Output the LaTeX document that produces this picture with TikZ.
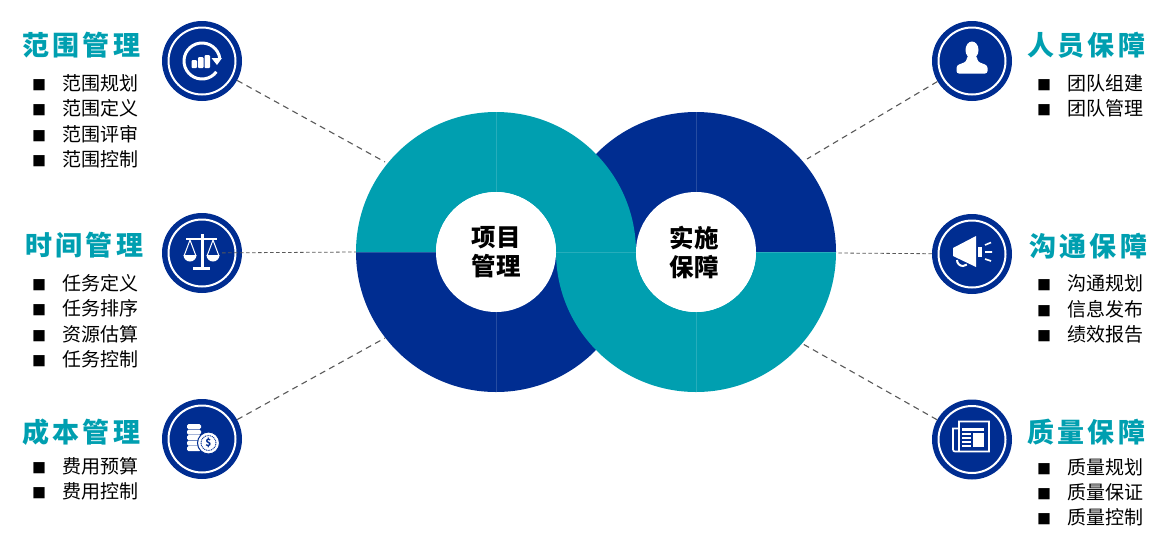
\documentclass[tikz,border=0pt]{standalone}
\usepackage{fontspec}
\usepackage[HTML]{xcolor}
\setmainfont{Noto Sans CJK SC}
\newfontfamily\titlefont[LetterSpace=12.5]{Noto Sans CJK SC}
\definecolor{tealfill}{HTML}{009FB0}
\definecolor{navyfill}{HTML}{002D91}
\usetikzlibrary{positioning}
\tikzset{
  badge/.style={circle, fill=navyfill, minimum size=80pt, inner sep=0pt},
  badgering/.style={circle, draw=white, line width=2pt, minimum size=67pt, inner sep=0pt},
  hub/.style={circle, fill=white, minimum size=120pt, inner sep=0pt, align=center, font=\fontsize{24.5}{29}\selectfont\bfseries},
  seam/.style={white, opacity=0.15, line width=0.7pt},
  link/.style={draw=black!65, line width=1.1pt, dash pattern=on 6pt off 4.5pt},
  linkfine/.style={draw=black!65, line width=0.8pt, dash pattern=on 3.5pt off 2.5pt},
  heading/.style={anchor=west, inner sep=0pt, text=tealfill, font=\fontsize{27}{31}\titlefont\bfseries},
  listitem/.style={anchor=west, inner sep=0pt, font=\fontsize{19}{22}\selectfont},
  glyph/.style={fill=white, draw=none}
}
\newcommand{\tick}[1]{\makebox[30pt][l]{\fontsize{14}{14}\selectfont ■}#1}
\begin{document}
\begin{tikzpicture}[x=1pt, y=-1pt]
\useasboundingbox (0,0) rectangle (1173,550);

% Define the rings
\fill[navyfill] (356,252) arc[start angle=180, end angle=0, radius=140] -- cycle;
\fill[navyfill] (556,252) arc[start angle=180, end angle=360, radius=140] -- cycle;
\fill[tealfill] (356,252) arc[start angle=180, end angle=360, radius=140]
  arc[start angle=180, end angle=0, radius=60] -- (836,252)
  arc[start angle=0, end angle=180, radius=140]
  arc[start angle=0, end angle=-180, radius=60] -- cycle;

% Define the hubs
\node[hub] (xiangmu) at (496,252) {项目\\管理};
\node[hub] (shishi) at (696,252) {\hspace{-4pt}实施\\\hspace{-4pt}保障};

% Draw the seams
\coordinate (ringtop) at (496,112);
\coordinate (ringbot) at (496,392);
\coordinate (ringtopr) at (696,112);
\coordinate (ringbotr) at (696,392);
\coordinate (ringw) at (356,252);
\coordinate (ringm) at (556,252);
\coordinate (ringe) at (836,252);
\draw[seam] (ringtop) -- (xiangmu);
\draw[seam] (ringbot) -- (xiangmu);
\draw[seam] (ringtopr) -- (shishi);
\draw[seam] (ringbotr) -- (shishi);
\draw[seam] (ringw) -- (xiangmu);
\draw[seam] (ringm) -- (shishi);
\draw[seam] (ringe) -- (shishi);

% Define the badges
\foreach \name/\x/\y in {fanwei/202/61, shijian/202/253, chengben/202/439,
                         renyuan/972/61, goutong/972/254, zhiliang/972/439.5} {
  \node[badge] (\name) at (\x,\y) {};
  \node[badgering] (\name-ring) at (\x,\y) {};
}

% Draw the links
\coordinate (endfanwei) at (385,162);
\coordinate (endchengben) at (385,338);
\coordinate (endrenyuan) at (807,159);
\coordinate (endzhiliang) at (803,344);
\coordinate (endgoutong) at (836,253);
\draw[link] (fanwei) -- (endfanwei);
\draw[linkfine, shorten <=-20pt] (shijian) -- (ringw);
\draw[link] (chengben) -- (endchengben);
\draw[link] (renyuan) -- (endrenyuan);
\draw[linkfine] (goutong) -- (endgoutong);
\draw[link] (zhiliang) -- (endzhiliang);

% Define the headings
\node[heading] (hfanwei) at (22,45) {范围管理};
\node[heading] (hshijian) at (25,245) {时间管理};
\node[heading] (hchengben) at (22,432) {成本管理};
\node[heading] (hrenyuan) at (1027,45) {人员保障};
\node[heading] (hgoutong) at (1029,246) {沟通保障};
\node[heading] (hzhiliang) at (1027,432) {质量保障};

% Define the lists
\foreach \y/\txt [count=\i] in {83/范围规划, 108/范围定义, 134/范围评审, 159/范围控制,
    283/任务定义, 308/任务排序, 334/资源估算, 359/任务控制, 466/费用预算, 491/费用控制}
  \node[listitem] (left\i) at (32,\y) {\tick{\txt}};
\foreach \y/\txt [count=\i] in {83/团队组建, 108/团队管理, 283/沟通规划, 309/信息发布, 334/绩效报告,
    467/质量规划, 492/质量保证, 517/质量控制}
  \node[listitem] (right\i) at (1037,\y) {\tick{\txt}};

% Draw the icons
\begin{scope}[shift={(fanwei)}]
  \draw[white, line width=3pt] (-8:18) arc[start angle=-8, end angle=-323, radius=18];
  \fill[glyph] (9.5,-3) -- (20,-3) -- (15,4) -- cycle;
  \fill[glyph, rounded corners=1pt] (-10.5,-1) rectangle (-5,7);
  \fill[glyph, rounded corners=1pt] (-4,-4) rectangle (1.5,7);
  \fill[glyph, rounded corners=1pt] (2.5,-6) rectangle (8,7);
\end{scope}
\begin{scope}[shift={(shijian)}]
  \fill[glyph] (-1.5,-19) rectangle (1.5,15);
  \fill[glyph] (-9,14) rectangle (8,16.5);
  \fill[glyph] (-16,-15.5) rectangle (15,-13);
  \draw[white, line width=1pt] (-12,-13) -- (-18,3) (-12,-13) -- (-6,3) (11,-13) -- (5,3) (11,-13) -- (17,3);
  \fill[glyph] (-18.5,2) arc[start angle=180, end angle=0, radius=6.5] -- cycle;
  \fill[glyph] (4.5,2) arc[start angle=180, end angle=0, radius=6.5] -- cycle;
\end{scope}
\begin{scope}[shift={(chengben)}]
  \foreach \yy in {-15,-9.5,-4,1.5,7}
    \fill[glyph, rounded corners=1.5pt] (-15,\yy) rectangle (-1,\yy+5);
  \node[circle, fill=white, draw=navyfill, line width=1pt, minimum size=22pt, inner sep=0pt] (coin) at (6.5,4) {};
  \node[circle, draw=navyfill, line width=0.9pt, dash pattern=on 1pt off 0.8pt, minimum size=15pt, inner sep=0pt,
        text=navyfill, font=\fontsize{10}{10}\selectfont\bfseries] (dollar) at (coin) {\$};
\end{scope}
\begin{scope}[shift={(renyuan)}]
  \fill[glyph] (0,-11) ellipse[x radius=6.5, y radius=8.5];
  \fill[glyph, rounded corners=2.5pt] (-15.5,12.5) -- (-15.5,4.5) -- (-5.5,0.5) -- (-5,-5) -- (5,-5) -- (5.5,0.5) -- (15.5,4.5) -- (15.5,12.5) -- cycle;
\end{scope}
\begin{scope}[shift={(goutong)}]
  \fill[glyph] (4,-18) -- (4,13) -- (-19,2) -- (-19,-6) -- cycle;
  \fill[glyph] (6,-7) rectangle (10,3);
  \draw[white, line width=1.6pt] (13,-9) -- (19,-11.5) (13,-2) -- (20,-2) (13,5) -- (19,7);
  \draw[white, line width=2pt] (-15,6) arc[start angle=180, end angle=50, radius=6];
\end{scope}
\begin{scope}[shift={(zhiliang)}]
  \draw[white, line width=1.7pt] (-13,-11) -- (-19,-11) -- (-19,10) arc[start angle=180, end angle=90, radius=2] -- (17,12) -- (17,-18) -- (-13,-18) -- (-13,12);
  \fill[glyph] (-10,-12) rectangle (12,-9);
  \foreach \yy in {-6.5,-2.5,1.5,5.5}
    \fill[glyph] (-10,\yy) rectangle (-1,\yy+2);
  \fill[glyph] (1,-6.5) rectangle (12,7.5);
\end{scope}
\end{tikzpicture}
\end{document}
